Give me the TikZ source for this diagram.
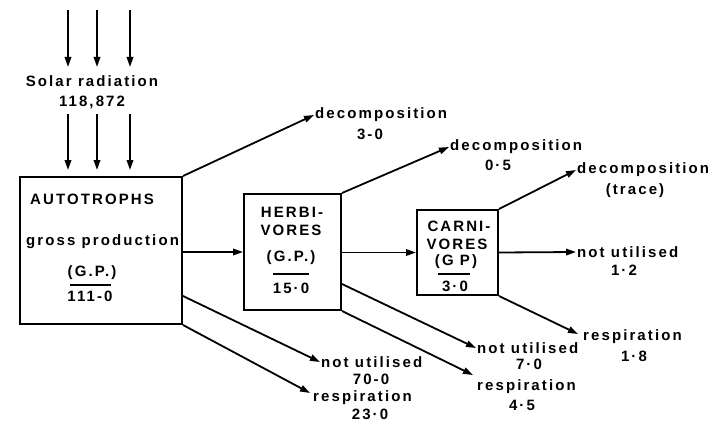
\documentclass[tikz,border=0pt]{standalone}
\usepackage{fontspec}
\newfontfamily\lblfont[LetterSpace=14]{Liberation Sans}
\usetikzlibrary{arrows.meta,calc}
\begin{document}
\begin{tikzpicture}[x=1pt,y=-1pt,
  every node/.style={font=\lblfont\bfseries\fontsize{15}{17}\selectfont, inner sep=1pt},
  box/.style={draw, line width=2pt, inner sep=0pt},
  flow/.style={line width=1.8pt, -{Triangle[length=10pt,width=6.5pt]}},
  bar/.style={line width=1.4pt}]
\useasboundingbox (0,0) rectangle (708,425);
\fill[white] (0,0) rectangle (708,425);

% boxes
\node[box, minimum width=162pt, minimum height=147pt] (auto) at (101,250.5) {};
\node[box, minimum width=97pt, minimum height=116pt] (herb) at (292.5,252) {};
\node[box, minimum width=81pt, minimum height=85pt] (carn) at (457.5,252.5) {};

% solar radiation
\node (sol) at (92,81) {Solar radiation};
\node (solv) at (92,102) {118,872};
\foreach \x/\n in {68/a,97/b,130/c}{
  \coordinate (t\n1) at (\x,10);
  \coordinate (t\n2) at (\x,67);
  \coordinate (b\n1) at (\x,114);
  \coordinate (b\n2) at (\x,170);
  \draw[flow] (t\n1) -- (t\n2);
  \draw[flow] (b\n1) -- (b\n2);
}

% autotrophs text
\node[anchor=west] (at1) at (29,199) {AUTOTROPHS};
\node[anchor=west] (at2) at (25,242) {gross production};
\node (at3) at (92,273) {(G.P.)};
\node (at4) at (90,296) {111-0};
\draw[bar] (70,285) -- (111,285);

% herbivores text
\node (ht1) at (292,212) {HERBI-};
\node (ht2) at (291,230) {VORES};
\node (ht3) at (291,258) {(G.P.)};
\node (ht4) at (291,288) {15·0};
\draw[bar] (273,274) -- (309,274);

% carnivores text
\node (ct1) at (459,226) {CARNI-};
\node (ct2) at (457,244) {VORES};
\node (ct3) at (456,262) {(G P)};
\node (ct4) at (455,286) {3·0};
\draw[bar] (438,274) -- (470,274);

% output labels
\node[anchor=west] (d1) at (314,115) {decomposition};
\node (d1v) at (370,134) {3-0};
\node[anchor=west] (d2) at (449,147) {decomposition};
\node (d2v) at (498,165) {0·5};
\node[anchor=west] (d3) at (576,170) {decomposition};
\node (d3v) at (635,191) {(trace)};

\node[anchor=west] (n1) at (320,362) {not utilised};
\node (n1v) at (371,379) {70-0};
\node[anchor=west] (r1) at (312,398) {respiration};
\node (r1v) at (370,414) {23·0};

\node[anchor=west] (n2) at (476,348) {not utilised};
\node (n2v) at (529,364) {7·0};
\node[anchor=west] (r2) at (476,387) {respiration};
\node (r2v) at (522,405) {4·5};

\node[anchor=west] (n3) at (576,252) {not utilised};
\node (n3v) at (624,270) {1·2};
\node[anchor=west] (r3) at (582,337) {respiration};
\node (r3v) at (634,356) {1·8};

% main flow
\draw[flow] (auto.east |- herb.west) -- (herb.west);
\draw[flow] (herb.east |- carn.west) -- (carn.west);
\draw[flow] (carn.east) -- (n3.west);

% decomposition
\draw[flow] (auto.north east) -- (d1.west);
\draw[flow] (herb.north east) -- (d2.west);
\draw[flow] (carn.north east) -- (d3.west);

% losses
\coordinate (a2) at ($(auto.south east)+(0,-29)$);
\draw[flow] (a2) -- (n1.west);
\draw[flow] (auto.south east) -- ($(r1.west)+(-2,-5)$);
\coordinate (h2) at ($(herb.south east)+(0,-27)$);
\draw[flow] (h2) -- (n2.west);
\draw[flow] (herb.south east) -- ($(r2.west)+(-3,-12)$);
\draw[flow] (carn.south east) -- ($(r3.west)+(-4,-3)$);
\end{tikzpicture}
\end{document}
